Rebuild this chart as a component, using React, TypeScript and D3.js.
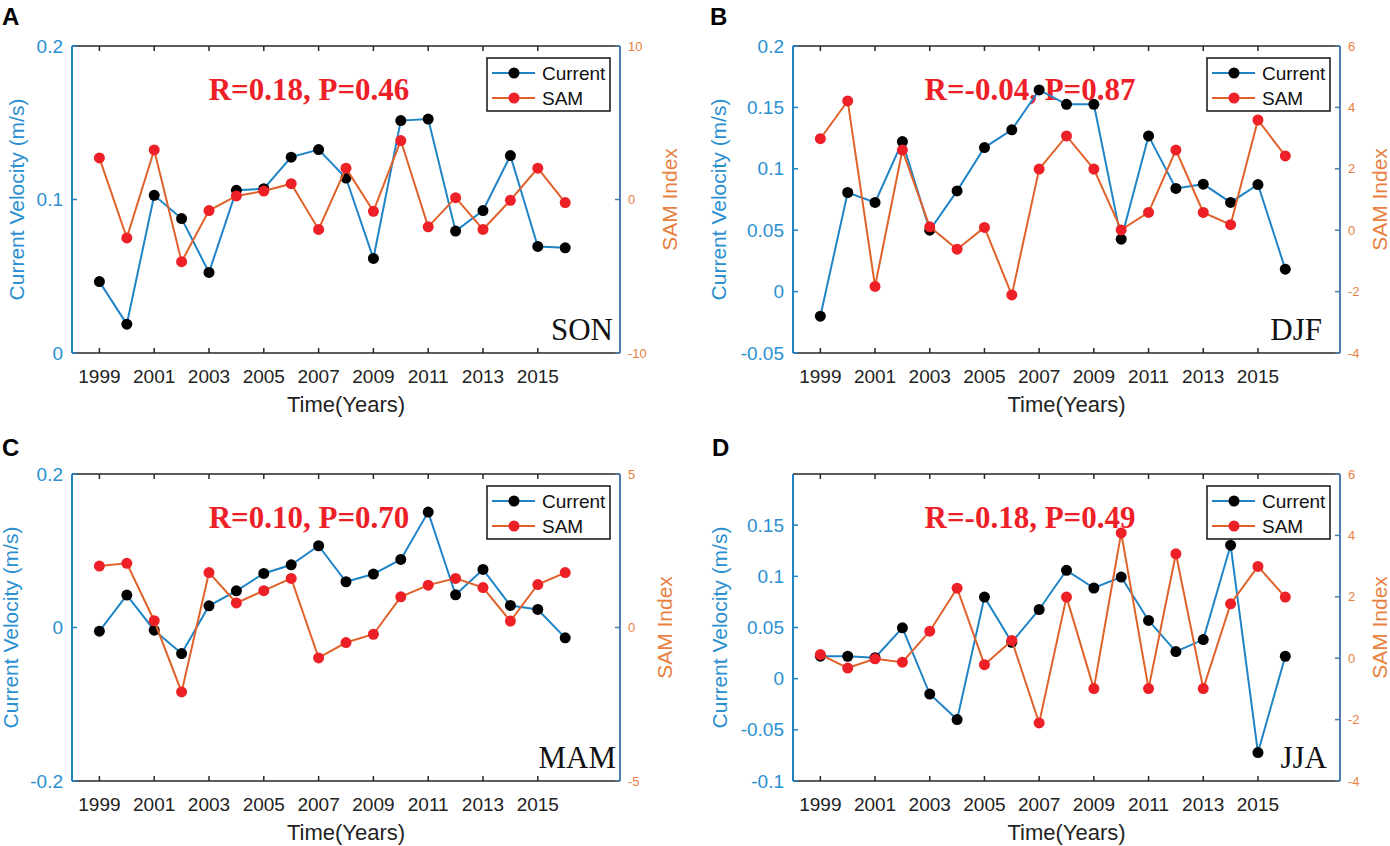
import React from "react";
import * as d3 from "d3";

// years on the x axis
const years = [1999, 2000, 2001, 2002, 2003, 2004, 2005, 2006, 2007, 2008, 2009, 2010, 2011, 2012, 2013, 2014, 2015, 2016];
const yearTicks = [1999, 2001, 2003, 2005, 2007, 2009, 2011, 2013, 2015];

// SON
const currentSON = [0.0465, 0.0188, 0.1027, 0.0876, 0.0525, 0.106, 0.107, 0.1276, 0.1325, 0.114, 0.0616, 0.1514, 0.1524, 0.0794, 0.0928, 0.1286, 0.0694, 0.0685];
const samSON = [2.71, -2.5, 3.23, -4.05, -0.72, 0.23, 0.55, 1.03, -1.95, 2.04, -0.77, 3.84, -1.78, 0.12, -1.95, -0.05, 2.04, -0.2];
// DJF
const currentDJF = [-0.02, 0.0807, 0.0726, 0.1222, 0.05, 0.082, 0.1173, 0.1317, 0.1642, 0.1525, 0.1525, 0.0427, 0.1268, 0.084, 0.0875, 0.0726, 0.0872, 0.0183];
const samDJF = [2.98, 4.21, -1.83, 2.61, 0.11, -0.62, 0.09, -2.11, 1.99, 3.07, 1.99, 0.01, 0.58, 2.61, 0.58, 0.18, 3.59, 2.42];
// MAM
const currentMAM = [-0.0048, 0.0422, -0.0035, -0.0339, 0.0283, 0.0478, 0.0704, 0.0817, 0.1065, 0.0596, 0.0696, 0.0887, 0.1504, 0.0426, 0.0757, 0.0287, 0.0235, -0.0135];
const samMAM = [2.0, 2.09, 0.22, -2.1, 1.79, 0.8, 1.2, 1.6, -0.99, -0.49, -0.22, 1.0, 1.38, 1.6, 1.3, 0.21, 1.4, 1.79];
// JJA
const currentJJA = [0.022, 0.0219, 0.0205, 0.0497, -0.015, -0.04, 0.0797, 0.0356, 0.0676, 0.1059, 0.0886, 0.0993, 0.0569, 0.0265, 0.0382, 0.1304, -0.0722, 0.0219];
const samJJA = [0.12, -0.32, -0.02, -0.13, 0.88, 2.28, -0.21, 0.58, -2.11, 1.99, -0.99, 4.08, -0.99, 3.4, -0.99, 1.77, 2.99, 1.99];

const leftTicksSON = [0, 0.1, 0.2];
const rightTicksSON = [-10, 0, 10];
const leftTicksDJF = [-0.05, 0, 0.05, 0.1, 0.15, 0.2];
const rightTicksDJF = [-4, -2, 0, 2, 4, 6];
const leftTicksMAM = [-0.2, 0, 0.2];
const rightTicksMAM = [-5, 0, 5];
const leftTicksJJA = [-0.1, -0.05, 0, 0.05, 0.1, 0.15];
const rightTicksJJA = [-4, -2, 0, 2, 4, 6];

const BLUE = "#1f84c6";
const BLUE_TXT = "#2b8fd0";
const ORANGE = "#e0622a";
const ORANGE_TXT = "#e8803f";
const RED = "#ee2027";
const SANS = "'Liberation Sans', Arial, sans-serif";
const SERIF = "'Liberation Serif', 'Times New Roman', serif";

const panels = [
  { letter: "A", lx: 2, ly: 25, season: "SON", stats: "R=0.18, P=0.46", current: currentSON, sam: samSON,
    leftDomain: [0, 0.2], rightDomain: [-10, 10], leftTicks: leftTicksSON, rightTicks: rightTicksSON,
    left: 72, right: 620, top: 46, bottom: 353, ylabDx: -55, y2labDx: 50, seasonDx: 7 },
  { letter: "B", lx: 710, ly: 25, season: "DJF", stats: "R=-0.04, P=0.87", current: currentDJF, sam: samDJF,
    leftDomain: [-0.05, 0.2], rightDomain: [-4, 6], leftTicks: leftTicksDJF, rightTicks: rightTicksDJF,
    left: 793, right: 1340, top: 46, bottom: 353, ylabDx: -74, y2labDx: 40, seasonDx: 18 },
  { letter: "C", lx: 2, ly: 456, season: "MAM", stats: "R=0.10, P=0.70", current: currentMAM, sam: samMAM,
    leftDomain: [-0.2, 0.2], rightDomain: [-5, 5], leftTicks: leftTicksMAM, rightTicks: rightTicksMAM,
    left: 72, right: 620, top: 474, bottom: 781, ylabDx: -61, y2labDx: 45, seasonDx: 4 },
  { letter: "D", lx: 712, ly: 456, season: "JJA", stats: "R=-0.18, P=0.49", current: currentJJA, sam: samJJA,
    leftDomain: [-0.1, 0.2], rightDomain: [-4, 6], leftTicks: leftTicksJJA, rightTicks: rightTicksJJA,
    left: 793, right: 1340, top: 474, bottom: 781, ylabDx: -73, y2labDx: 40, seasonDx: 13 },
];

const fmt = (v: number) => String(+v.toFixed(2));

function Panel({ p }: { p: any }) {
  const x = d3.scaleLinear().domain([1998, 2018]).range([p.left, p.right]);
  const yL = d3.scaleLinear().domain(p.leftDomain).range([p.bottom, p.top]);
  const yR = d3.scaleLinear().domain(p.rightDomain).range([p.bottom, p.top]);
  const curLine = d3.line<number>().x((_, i) => x(years[i])).y((d) => yL(d));
  const samLine = d3.line<number>().x((_, i) => x(years[i])).y((d) => yR(d));
  const midY = (p.top + p.bottom) / 2;
  const lgX = p.right - 133;
  const lgY = p.top + 12;

  return (
    <g>
      <text x={p.lx} y={p.ly} fontFamily={SANS} fontWeight="bold" fontSize={24}>{p.letter}</text>

      {/* stats text sits under the data */}
      <text x={p.left + 237} y={p.top + 54} textAnchor="middle" fontFamily={SERIF} fontWeight="bold" fontSize={31} fill={RED}>{p.stats}</text>
      <text x={p.right - p.seasonDx} y={p.bottom - 13} textAnchor="end" fontFamily={SERIF} fontSize={31} fill="#111">{p.season}</text>

      {/* box */}
      <line x1={p.left} x2={p.right} y1={p.top} y2={p.top} stroke="#262626" strokeWidth={1.5} />
      <line x1={p.left} x2={p.right} y1={p.bottom} y2={p.bottom} stroke="#262626" strokeWidth={1.5} />
      <line x1={p.left} x2={p.left} y1={p.top} y2={p.bottom} stroke={BLUE} strokeWidth={2} />
      <line x1={p.right} x2={p.right} y1={p.top} y2={p.bottom} stroke="#4f7cae" strokeWidth={2} />

      {yearTicks.map((t) => (
        <g key={t}>
          <line x1={x(t)} x2={x(t)} y1={p.bottom} y2={p.bottom - 5} stroke="#262626" strokeWidth={1.5} />
          <line x1={x(t)} x2={x(t)} y1={p.top} y2={p.top + 5} stroke="#262626" strokeWidth={1.5} />
          <text x={x(t)} y={p.bottom + 30} textAnchor="middle" fontFamily={SANS} fontSize={19} fill="#222">{t}</text>
        </g>
      ))}
      {p.leftTicks.map((t: number) => (
        <g key={"l" + t}>
          <line x1={p.left} x2={p.left + 5} y1={yL(t)} y2={yL(t)} stroke={BLUE} strokeWidth={1.5} />
          <text x={p.left - 9} y={yL(t)} dy="0.35em" textAnchor="end" fontFamily={SANS} fontSize={19} fill={BLUE_TXT}>{fmt(t)}</text>
        </g>
      ))}
      {p.rightTicks.map((t: number) => (
        <g key={"r" + t}>
          <line x1={p.right} x2={p.right - 5} y1={yR(t)} y2={yR(t)} stroke="#4f7cae" strokeWidth={1.5} />
          <text x={p.right + 8} y={yR(t)} dy="0.35em" fontFamily={SANS} fontSize={13} fill={ORANGE_TXT}>{fmt(t)}</text>
        </g>
      ))}

      <text transform={`translate(${p.left + p.ylabDx},${midY}) rotate(-90)`} textAnchor="middle" dy="0.35em" fontFamily={SANS} fontSize={21} fill={BLUE_TXT}>Current Velocity (m/s)</text>
      <text transform={`translate(${p.right + p.y2labDx},${midY}) rotate(-90)`} textAnchor="middle" dy="0.35em" fontFamily={SANS} fontSize={21} fill={ORANGE_TXT}>SAM Index</text>
      <text x={(p.left + p.right) / 2} y={p.bottom + 59} textAnchor="middle" fontFamily={SANS} fontSize={22} fill="#222">Time(Years)</text>

      {/* data */}
      <path d={curLine(p.current) || ""} fill="none" stroke={BLUE} strokeWidth={2} />
      {p.current.map((v: number, i: number) => (
        <circle key={"c" + i} cx={x(years[i])} cy={yL(v)} r={5.5} fill="#000" />
      ))}
      <path d={samLine(p.sam) || ""} fill="none" stroke={ORANGE} strokeWidth={2} />
      {p.sam.map((v: number, i: number) => (
        <circle key={"s" + i} cx={x(years[i])} cy={yR(v)} r={5.5} fill={RED} />
      ))}

      {/* legend */}
      <rect x={lgX} y={lgY} width={123} height={53} fill="#fff" stroke="#111" strokeWidth={1.5} />
      <line x1={lgX + 5} x2={lgX + 48} y1={lgY + 15} y2={lgY + 15} stroke={BLUE} strokeWidth={2} />
      <circle cx={lgX + 27} cy={lgY + 15} r={5.5} fill="#000" />
      <text x={lgX + 55} y={lgY + 15} dy="0.35em" fontFamily={SANS} fontSize={19} fill="#111">Current</text>
      <line x1={lgX + 5} x2={lgX + 48} y1={lgY + 40} y2={lgY + 40} stroke={ORANGE} strokeWidth={2} />
      <circle cx={lgX + 27} cy={lgY + 40} r={5.5} fill={RED} />
      <text x={lgX + 55} y={lgY + 40} dy="0.35em" fontFamily={SANS} fontSize={19} fill="#111">SAM</text>
    </g>
  );
}

export default function App() {
  return (
    <svg width={1390} height={846} style={{ position: "absolute", left: 0, top: 0, background: "#fff" }}>
      {panels.map((p) => (
        <Panel key={p.letter} p={p} />
      ))}
    </svg>
  );
}
